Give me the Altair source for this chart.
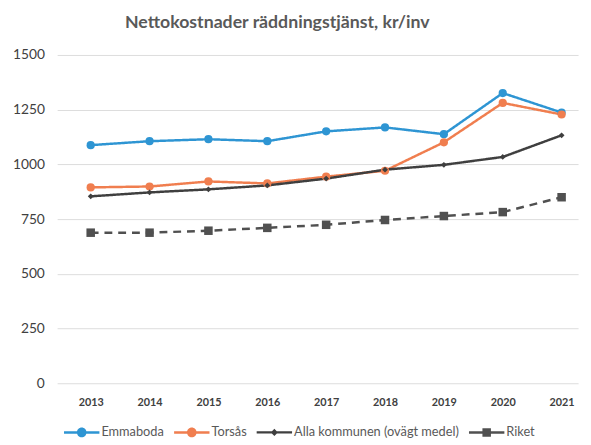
import altair as alt
import pandas as pd

years = [2013, 2014, 2015, 2016, 2017, 2018, 2019, 2020, 2021]
emmaboda = [1088, 1106, 1115, 1106, 1151, 1169, 1138, 1326, 1237]
torsas = [895, 899, 922, 913, 944, 971, 1101, 1281, 1228]
alla = [854, 872, 886, 904, 935, 976, 998, 1034, 1133]
riket = [688, 688, 697, 710, 724, 746, 764, 782, 850]

series = ["Emmaboda", "Torsås", "Alla kommunen (ovägt medel)", "Riket"]
colors = ["#2E95D3", "#F07E4F", "#3F3F3F", "#505050"]
markers = ["circle", "circle", "diamond", "square"]
marker_sizes = [70, 70, 35, 75]
dashes = [[1, 0], [1, 0], [1, 0], [8, 6]]

legend_paths = [
    "M-1,-0.07H1V0.07H-1Z M-0.27,0A0.27,0.27 0 1,1 0.27,0A0.27,0.27 0 1,1 -0.27,0Z",
    "M-1,-0.07H1V0.07H-1Z M-0.27,0A0.27,0.27 0 1,1 0.27,0A0.27,0.27 0 1,1 -0.27,0Z",
    "M-1,-0.06H1V0.06H-1Z M0,-0.2L0.2,0L0,0.2L-0.2,0Z",
    "M-1,-0.07H1V0.07H-1Z M-0.24,-0.24H0.24V0.24H-0.24Z",
]

rows = []
for name, vals in zip(series, [emmaboda, torsas, alla, riket]):
    for y, v in zip(years, vals):
        rows.append({"year": y, "value": v, "series": name})
df = pd.DataFrame(rows)

FONT = "Lato"

x_enc = alt.X("year:Q",
              scale=alt.Scale(domain=[2012.43, 2021.28], nice=False, zero=False),
              axis=alt.Axis(values=years, format="d", grid=False, domain=False,
                            ticks=False, labelFontSize=11, labelFontWeight="bold",
                            labelColor="#404040", labelPadding=14, title=None,
                            labelFont=FONT))
y_enc = alt.Y("value:Q",
              scale=alt.Scale(domain=[0, 1500], nice=False),
              axis=alt.Axis(values=[0, 250, 500, 750, 1000, 1250, 1500], format="d",
                            title=None, domain=False, ticks=False, labelFontSize=14,
                            labelColor="#404040", labelPadding=13,
                            gridColor="#dcdcdc", gridWidth=1, labelFont=FONT))

lines = alt.Chart(df).mark_line(strokeWidth=2.5).encode(
    x=x_enc, y=y_enc,
    stroke=alt.Stroke("series:N", scale=alt.Scale(domain=series, range=colors), legend=None),
    strokeDash=alt.StrokeDash("series:N", scale=alt.Scale(domain=series, range=dashes), legend=None),
    order=alt.Order("year:Q"),
)

point_layers = []
for name, shp, sz in zip(series, markers, marker_sizes):
    point_layers.append(
        alt.Chart(df).transform_filter(alt.datum.series == name)
        .mark_point(filled=True, opacity=1, shape=shp, size=sz, strokeWidth=0)
        .encode(x="year:Q", y="value:Q",
                fill=alt.Fill("series:N", scale=alt.Scale(domain=series, range=colors), legend=None))
    )

leg = alt.Legend(title=None, orient="none", direction="horizontal",
                 legendX=7, legendY=366, symbolSize=1296,
                 symbolStrokeWidth=0, symbolOpacity=1,
                 labelFont=FONT, labelFontSize=13, labelLimit=0,
                 labelColor="#595959", labelOffset=2, columnPadding=10)

legend_layer = alt.Chart(df).mark_point(filled=True, opacity=0).encode(
    x="year:Q", y="value:Q",
    color=alt.Color("series:N", scale=alt.Scale(domain=series, range=colors), legend=leg),
    shape=alt.Shape("series:N", scale=alt.Scale(domain=series, range=legend_paths), legend=leg),
)

chart = alt.layer(lines, *point_layers, legend_layer).resolve_legend(
    color="independent", shape="independent"
).properties(
    width=530, height=334,
    autosize=alt.AutoSizeParams(type="none"),
    padding={"left": 50, "top": 44, "right": 5, "bottom": 57},
    title=alt.TitleParams("Nettokostnader räddningstjänst, kr/inv", fontSize=18,
                          fontWeight="bold", color="#595959", font=FONT,
                          anchor="middle", offset=16, dx=-41),
    background="white",
).configure_view(stroke=None)

chart.save("out.html", embed_options={"renderer": "svg", "actions": False})
